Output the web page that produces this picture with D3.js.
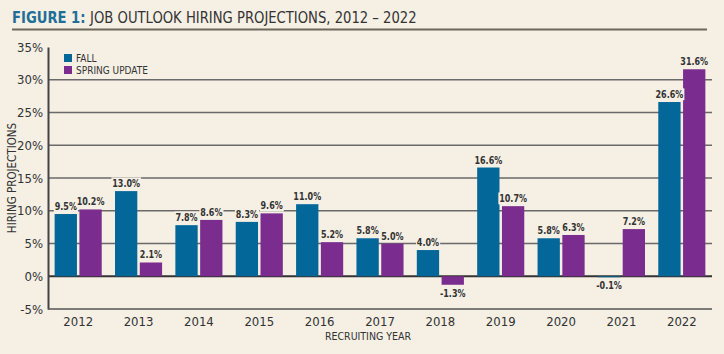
<!DOCTYPE html>
<html>
<head>
<meta charset="utf-8">
<script src="https://cdn.jsdelivr.net/npm/d3@7"></script>
<style>
  html, body { margin: 0; padding: 0; background: #f5efe4; }
  svg { display: block; }
  text { font-family: "DejaVu Sans Condensed", "Liberation Sans Narrow", "Roboto", sans-serif; font-stretch: condensed; }
</style>
</head>
<body>
<svg id="chart" width="724" height="354"></svg>
<script>
const years = ["2012","2013","2014","2015","2016","2017","2018","2019","2020","2021","2022"];
const seriesNames = ["FALL", "SPRING UPDATE"];
const fall = [9.5, 13.0, 7.8, 8.3, 11.0, 5.8, 4.0, 16.6, 5.8, -0.1, 26.6];
const spring = [10.2, 2.1, 8.6, 9.6, 5.2, 5.0, -1.3, 10.7, 6.3, 7.2, 31.6];
const yTicks = [-5, 0, 5, 10, 15, 20, 25, 30, 35];
const colors = ["#04679a", "#7b2d8f"];
const bg = "#f5efe4";

(function () {
const svg = d3.select("#chart");
const mLeft = 48, mRight = 712, mTop = 47, mBottom = 309;

const x0 = d3.scaleBand().domain(years).range([mLeft, mRight]).paddingInner(0.22).paddingOuter(0.11);
const x1 = d3.scaleBand().domain([0, 1]).range([0, x0.bandwidth()]).paddingInner(0.1);
const y = d3.scaleLinear().domain([-5, 35]).range([mBottom, mTop]);

// Title
const title = svg.append("text").attr("x", 0).attr("y", 0).attr("font-size", 16)
  .attr("transform", "translate(12,23) scale(0.915,1)");
title.append("tspan").attr("fill", "#1f6e98").attr("font-weight", "600").text("FIGURE 1: ");
title.append("tspan").attr("fill", "#333").text("JOB OUTLOOK HIRING PROJECTIONS, 2012 \u2013 2022");
svg.append("line").attr("x1", 12).attr("x2", 707).attr("y1", 29.5).attr("y2", 29.5)
  .attr("stroke", "#6f675b").attr("stroke-width", 2);

// Gridlines
svg.append("g").selectAll("line").data(yTicks.filter(t => t > -5 && t < 35)).join("line")
  .attr("x1", mLeft).attr("x2", mRight)
  .attr("y1", d => y(d)).attr("y2", d => y(d))
  .attr("stroke", d => d === 0 ? "#333" : "#6a6a6a")
  .attr("stroke-width", d => d === 0 ? 2 : 1.5);

// Y axis
const yAxis = d3.axisLeft(y).tickValues(yTicks).tickFormat(d => d + "%").tickSize(0).tickPadding(5);
const gy = svg.append("g").attr("transform", `translate(${mLeft},0)`).call(yAxis);
gy.select(".domain").attr("stroke", "#444").attr("stroke-width", 2);
gy.selectAll("text").attr("font-size", 13).attr("fill", "#333").attr("font-family", null);

// X axis at -5
const xAxis = d3.axisBottom(x0).tickSize(0).tickPadding(8);
const gx = svg.append("g").attr("transform", `translate(0,${mBottom})`).call(xAxis);
gx.select(".domain").attr("stroke", "#555").attr("stroke-width", 1.5).attr("d", `M${mLeft},0H${mRight}`);
gx.selectAll("text").attr("font-size", 13).attr("fill", "#333").attr("font-family", null);

// Axis titles
svg.append("text").attr("x", 368).attr("y", 340).attr("text-anchor", "middle")
  .attr("font-size", 10.5).attr("fill", "#333").text("RECRUITING YEAR");
svg.append("text").attr("transform", `translate(16,${(mTop + mBottom) / 2}) rotate(-90)`)
  .attr("text-anchor", "middle").attr("font-size", 11.5).attr("fill", "#333").text("HIRING PROJECTIONS");

// Data rows
const rows = years.map((yr, i) => ({ year: yr, vals: [fall[i], spring[i]] }));

// Bars
const groups = svg.append("g").selectAll("g").data(rows).join("g")
  .attr("transform", d => `translate(${x0(d.year)},0)`);
groups.selectAll("rect").data(d => d.vals.map((v, k) => ({ v, k }))).join("rect")
  .attr("x", d => x1(d.k)).attr("width", x1.bandwidth())
  .attr("y", d => y(Math.max(0, d.v))).attr("height", d => Math.max(1, Math.abs(y(d.v) - y(0))))
  .attr("fill", d => colors[d.k]);

// Value labels with background
const labels = svg.append("g");
rows.forEach(r => {
  r.vals.forEach((v, k) => {
    const cx = x0(r.year) + x1(k) + x1.bandwidth() / 2;
    const ty = v >= 0 ? y(v) - 4 : y(v) + 12;
    const g = labels.append("g").attr("transform", `translate(${cx},${ty}) scale(0.85,1)`);
    const t = g.append("text").attr("x", 0).attr("y", 0).attr("text-anchor", "middle")
      .attr("font-size", 10.5).attr("font-weight", "bold").attr("fill", "#333")
      .text(v.toFixed(1) + "%");
    const bb = t.node().getBBox();
    g.insert("rect", "text").attr("x", bb.x - 1).attr("y", bb.y).attr("width", bb.width + 2).attr("height", bb.height)
      .attr("fill", bg);
  });
});

// Legend
const legend = svg.append("g").attr("transform", "translate(64,54)");
seriesNames.forEach((n, k) => {
  legend.append("rect").attr("x", 0).attr("y", k * 12).attr("width", 8).attr("height", 8).attr("fill", colors[k]);
  legend.append("text").attr("x", 12).attr("y", k * 12 + 8).attr("font-size", 10).attr("fill", "#333").text(n);
});
})();
</script>
</body>
</html>
